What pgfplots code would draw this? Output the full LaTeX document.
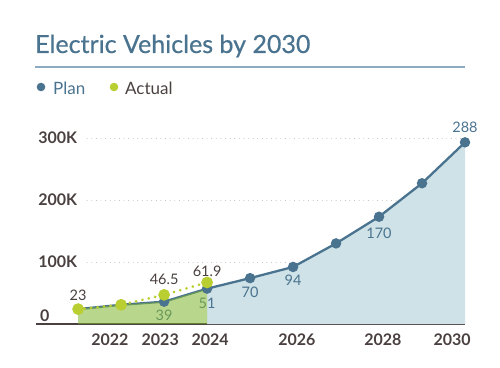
\documentclass[border=0pt]{standalone}
\usepackage{pgfplots}
\pgfplotsset{compat=1.18}
\usepackage{fontspec}
\setmainfont{Lato}
\newfontfamily\titlefont{Lato}[BoldFont={Lato}, BoldFeatures={FakeBold=0.6}]
\definecolor{planblue}{RGB}{74,115,143}
\definecolor{actgreen}{RGB}{185,206,48}
\definecolor{areablue}{RGB}{206,226,231}
\definecolor{areagreen}{RGB}{128,182,46}
\definecolor{darktxt}{RGB}{74,64,64}
\definecolor{gridgray}{RGB}{185,185,185}
\definecolor{rulecol}{RGB}{140,170,192}
\newcommand{\lbl}{\fontsize{14.5}{16}\selectfont}
\newcommand{\tck}{\bfseries\fontsize{16}{18}\selectfont}
\begin{document}
\begin{tikzpicture}
\path[use as bounding box] (0pt,0pt) rectangle (500pt,367pt);
% title
\node[anchor=base west, inner sep=0, text=planblue, font=\titlefont\bfseries\fontsize{25}{28}\selectfont] at (35pt,314pt) {Electric Vehicles by 2030};
\draw[rulecol, line width=1.2pt] (35pt,300pt) -- (465pt,300pt);
% legend
\fill[planblue] (41pt,280pt) circle (4.3pt);
\node[anchor=west, inner sep=0, text=planblue, font=\fontsize{17}{19}\selectfont] at (53pt,279pt) {Plan};
\fill[actgreen] (114pt,280pt) circle (4.3pt);
\node[anchor=west, inner sep=0, text=darktxt, font=\fontsize{17}{19}\selectfont] at (125pt,279pt) {Actual};
\begin{axis}[
  at={(36pt,43pt)}, anchor=south west, scale only axis,
  width=429pt, height=198.4pt,
  xmin=2020.02, xmax=2030, ymin=0, ymax=320,
  axis x line*=bottom, axis y line=none,
  x axis line style={darktxt, line width=1.8pt, -},
  ytick=\empty,
  xtick={2021.74,2022.91,2024.07,2026.09,2028.09,2029.70},
  xticklabels={2022,2023,2024,2026,2028,2030},
  major tick length=0pt,
  xticklabel style={anchor=center, yshift=-16pt, font=\tck, text=darktxt},
  clip=false,
]
% grid lines
\draw[gridgray, line width=0.9pt, dash pattern=on 0.01pt off 4.6pt, line cap=round] (axis cs:2021.21,100) -- (axis cs:2030,100);
\draw[gridgray, line width=0.9pt, dash pattern=on 0.01pt off 4.6pt, line cap=round] (axis cs:2021.21,200) -- (axis cs:2030,200);
\draw[gridgray, line width=0.9pt, dash pattern=on 0.01pt off 4.6pt, line cap=round] (axis cs:2021.21,300) -- (axis cs:2030,300);
% y labels
\node[anchor=west, inner sep=0, font=\tck, text=darktxt] at (axis cs:2020.07,300) {300K};
\node[anchor=west, inner sep=0, font=\tck, text=darktxt] at (axis cs:2020.07,200) {200K};
\node[anchor=west, inner sep=0, font=\tck, text=darktxt] at (axis cs:2020.07,100) {100K};
\node[anchor=base west, inner sep=0, font=\tck, text=darktxt] at (axis cs:2020.11,4) {0};
% plan area (blue part)
\addplot[draw=none, fill=areablue] coordinates {(2024,57) (2025,74) (2026,92) (2027,130) (2028,173) (2029,227) (2030,293)} \closedcycle;
% plan line
\addplot[planblue, line width=2.3pt, mark=*, mark size=4pt] coordinates {(2021,24) (2022,31) (2023,36) (2024,57) (2025,74) (2026,92) (2027,130) (2028,173) (2029,227) (2030,293)};
% plan labels
\node[anchor=north, inner sep=0, yshift=-8pt, text=planblue, font=\lbl] at (axis cs:2023,36) {39};
\node[anchor=north, inner sep=0, yshift=-9pt, text=planblue, font=\lbl] at (axis cs:2024,57) {51};
\node[anchor=north, inner sep=0, yshift=-9pt, text=planblue, font=\lbl] at (axis cs:2025,74) {70};
\node[anchor=north, inner sep=0, yshift=-8pt, text=planblue, font=\lbl] at (axis cs:2026,92) {94};
\node[anchor=north, inner sep=0, yshift=-11pt, text=planblue, font=\lbl] at (axis cs:2028,173) {170};
\node[anchor=base, inner sep=0, yshift=10pt, text=planblue, font=\lbl] at (axis cs:2030,293) {288};
% green area
\addplot[draw=none, fill=areagreen, fill opacity=0.55] coordinates {(2021,24) (2022,31) (2023,36) (2024,57)} \closedcycle;
% actual
\addplot[actgreen, line width=3pt, dash pattern=on 0.01pt off 6.5pt, line cap=round, mark=*, mark size=4.3pt, mark options={solid}] coordinates {(2021,24) (2022,31) (2023,47) (2024,67)};
\node[anchor=base, inner sep=0, yshift=9pt, text=darktxt, font=\lbl] at (axis cs:2021,24) {23};
\node[anchor=base, inner sep=0, yshift=10pt, text=darktxt, font=\lbl] at (axis cs:2023,47) {46.5};
\node[anchor=base, inner sep=0, yshift=6pt, text=darktxt, font=\lbl] at (axis cs:2024,67) {61.9};
\end{axis}
\end{tikzpicture}
\end{document}
